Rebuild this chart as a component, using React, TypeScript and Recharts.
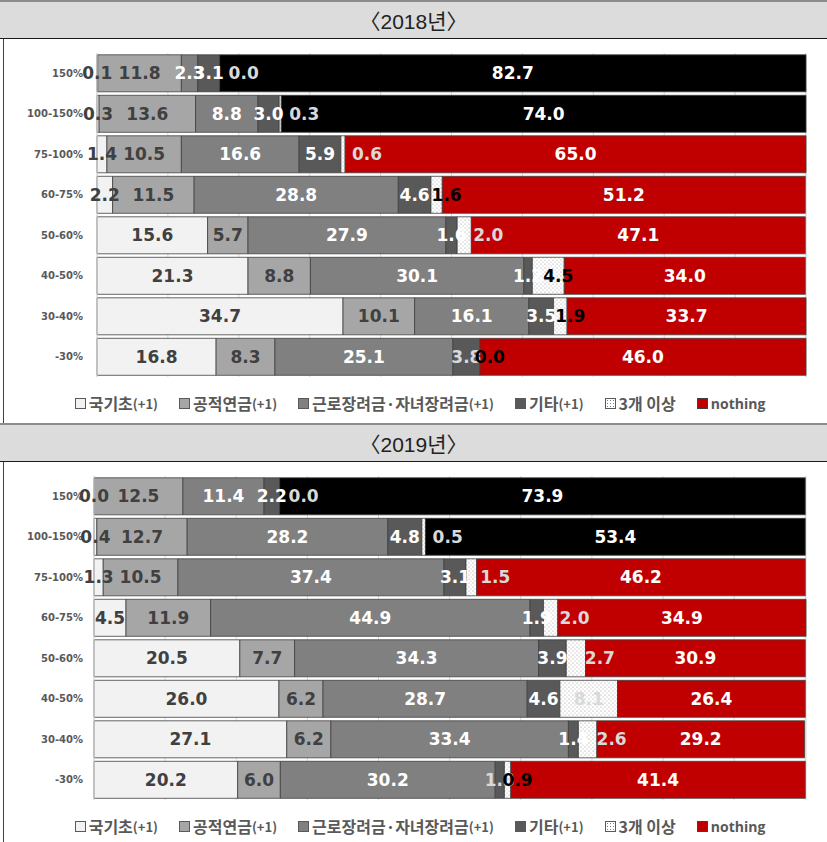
import React from 'react';
import { BarChart, Bar, XAxis, YAxis, CartesianGrid, LabelList, Cell } from 'recharts';

const categories = ['150%', '100-150%', '75-100%', '60-75%', '50-60%', '40-50%', '30-40%', '-30%'];
const seriesNames = ['국기초', '공적연금', '근로장려금·자녀장려금', '기타', '3개 이상', 'nothing'];
const seriesSuffix = ['(+1)', '(+1)', '(+1)', '(+1)', '', ''];

// 2018
const basic2018 = [0.1, 0.3, 1.4, 2.2, 15.6, 21.3, 34.7, 16.8];
const pension2018 = [11.8, 13.6, 10.5, 11.5, 5.7, 8.8, 10.1, 8.3];
const earned2018 = [2.3, 8.8, 16.6, 28.8, 27.9, 30.1, 16.1, 25.1];
const other2018 = [3.1, 3.0, 5.9, 4.6, 1.6, 1.2, 3.5, 3.8];
const three2018 = [0.0, 0.3, 0.6, 1.6, 2.0, 4.5, 1.9, 0.0];
const nothing2018 = [82.7, 74.0, 65.0, 51.2, 47.1, 34.0, 33.7, 46.0];

// 2019
const basic2019 = [0.0, 0.4, 1.3, 4.5, 20.5, 26.0, 27.1, 20.2];
const pension2019 = [12.5, 12.7, 10.5, 11.9, 7.7, 6.2, 6.2, 6.0];
const earned2019 = [11.4, 28.2, 37.4, 44.9, 34.3, 28.7, 33.4, 30.2];
const other2019 = [2.2, 4.8, 3.1, 1.9, 3.9, 4.6, 1.4, 1.3];
const three2019 = [0.0, 0.5, 1.5, 2.0, 2.7, 8.1, 2.6, 0.9];
const nothing2019 = [73.9, 53.4, 46.2, 34.9, 30.9, 26.4, 29.2, 41.4];

const gridTicks = [0, 10, 20, 30, 40, 50, 60, 70, 80, 90, 100];

const keys = ['s0', 's1', 's2', 's3', 's4', 's5'];
const fills = ['#f2f2f2', '#a6a6a6', '#808080', '#595959', 'url(#dots)', '#c00000'];
const labelColors = ['#404040', '#404040', '#ffffff', '#ffffff', '#000000', '#ffffff'];

// labels the original draws in pale grey (series index -> rows)
const pale2018: Record<number, number[]> = { 3: [7], 4: [0, 1, 2, 4] };
const pale2019: Record<number, number[]> = { 3: [7], 4: [0, 1, 2, 3, 4, 5, 6] };

const build = (cols: number[][]) =>
    categories.map((cat, i) => {
        const row: Record<string, any> = { cat };
        cols.forEach((c, k) => (row[keys[k]] = c[i]));
        return row;
    });

const data2018 = build([basic2018, pension2018, earned2018, other2018, three2018, nothing2018]);
const data2019 = build([basic2019, pension2019, earned2019, other2019, three2019, nothing2019]);

const labelFont = '"DejaVu Sans", Verdana, sans-serif';
const krFont = '"Noto Sans CJK KR", "Noto Sans", sans-serif';

function YearTitle({ top, text }: { top: number; text: string }) {
    return (
        <div style={{
            position: 'absolute', left: 0, top, width: 827, height: 36,
            background: '#dcdcdc', borderTop: '2px solid #8c8c8c', borderBottom: '1px solid #1a1a1a',
            display: 'flex', alignItems: 'center', justifyContent: 'center',
            fontFamily: '"Liberation Sans Narrow", "Liberation Sans", ' + krFont, fontSize: 21, color: '#222'
        }}>{text}</div>
    );
}

function Legend({ top }: { top: number }) {
    return (
        <div style={{
            position: 'absolute', left: 3, top, width: 834, height: 20,
            display: 'flex', justifyContent: 'center', alignItems: 'center', gap: 21,
            fontFamily: krFont, fontWeight: 700, color: '#595959', fontSize: 16
        }}>
            {seriesNames.map((n, i) => (
                <div key={n} style={{ display: 'flex', alignItems: 'center' }}>
                    <span style={{
                        display: 'inline-block', width: 9, height: 9, marginRight: 3,
                        border: '1px solid ' + (i === 5 ? '#404040' : '#595959'),
                        background: i === 4
                            ? 'radial-gradient(circle, #7f7f7f 0.6px, #ffffff 0.9px) 0 0 / 3px 3px'
                            : fills[i]
                    }} />
                    <span style={{ fontFamily: i === 5 ? '"Open Sans", ' + krFont : krFont, fontSize: i === 5 ? 14 : 16 }}>{n}</span>
                    {seriesSuffix[i] && <span style={{ fontSize: 13 }}>{seriesSuffix[i]}</span>}
                </div>
            ))}
        </div>
    );
}

function StackChart({ data, top, axisWidth, pale }: { data: any[]; top: number; axisWidth: number; pale: Record<number, number[]> }) {
    const labelText = (k: number, row: number, x: number, w: number, cy: number, value: number) => {
        const isPale = (pale[k] || []).includes(row);
        const color = isPale ? '#d9d9d9' : labelColors[k];
        // narrow "3개 이상" segments have their label pushed to the right, as in the original
        const shift = k === 4 && w < 35 ? (isPale ? 24 : 10) : 0;
        return (
            <text
                key={`t-${k}-${row}`}
                x={x + w / 2 + shift}
                y={cy}
                textAnchor="middle"
                dominantBaseline="central"
                fill={color}
                fontFamily={labelFont}
                fontWeight={700}
                fontSize={17}
            >
                {value.toFixed(1)}
            </text>
        );
    };

    // value carries the row's category so labels know their row
    const renderLabel = (k: number) => (p: any) => {
        const { x, y, width, height, value } = p;
        const cat = String(value).split('|')[0];
        const row = categories.indexOf(cat);
        if (row < 0) return null;
        const v = data[row][keys[k]];
        const cy = Number(y) + Number(height) / 2;
        const parts = [];
        // a zero-width segment before this one gets its label drawn here, at the shared edge
        if (k > 0 && data[row][keys[k - 1]] === 0) {
            parts.push(labelText(k - 1, row, Number(x), 0, cy, 0));
        }
        if (v !== 0) parts.push(labelText(k, row, Number(x), Number(width), cy, v));
        return <g>{parts}</g>;
    };

    return (
        <div style={{ position: 'absolute', left: 0, top }}>
            <BarChart
                width={827}
                height={345}
                data={data}
                layout="vertical"
                margin={{ top: 14, right: 21, bottom: 7, left: 0 }}
                barCategoryGap={1.8}
            >
                <CartesianGrid horizontal={false} stroke="#d9d9d9" />
                <XAxis type="number" domain={[0, 100]} ticks={gridTicks} hide />
                <YAxis
                    type="category"
                    dataKey="cat"
                    width={axisWidth}
                    axisLine={{ stroke: '#d9d9d9' }}
                    tickLine={false}
                    tickSize={0}
                    tickMargin={axisWidth - 83}
                    tick={{ fontSize: 10, fontWeight: 700, fill: '#595959', fontFamily: labelFont }}
                />
                {keys.map((key, k) => (
                    <Bar
                        key={key}
                        dataKey={key}
                        stackId="a"
                        fill={fills[k]}
                        stroke="#404040"
                        strokeWidth={0.8}
                        isAnimationActive={false}
                    >
                        {k === 5 && data.map((_, i) => (
                            <Cell key={`c-${i}`} fill={i < 2 ? '#000000' : '#c00000'} />
                        ))}
                        <LabelList dataKey={(d: any) => `${d.cat}|${d[key]}`} content={renderLabel(k)} />
                    </Bar>
                ))}
            </BarChart>
        </div>
    );
}

export default function App() {
    return (
        <div style={{ position: 'absolute', left: 0, top: 0, width: 827, height: 842, background: '#fff', overflow: 'hidden' }}>
            <svg width={0} height={0} style={{ position: 'absolute' }}>
                <defs>
                    <pattern id="dots" width={4} height={4} patternUnits="userSpaceOnUse">
                        <rect width={4} height={4} fill="#ffffff" />
                        <circle cx={1} cy={1} r={0.5} fill="#7f7f7f" />
                        <circle cx={3} cy={3} r={0.5} fill="#9f9f9f" />
                    </pattern>
                </defs>
            </svg>

            <YearTitle top={0} text="〈2018년〉" />
            <div style={{ position: 'absolute', left: 3, top: 39, width: 1, height: 384, background: '#404040' }} />
            <StackChart data={data2018} top={39} axisWidth={97} pale={pale2018} />
            <Legend top={393} />

            <YearTitle top={423} text="〈2019년〉" />
            <div style={{ position: 'absolute', left: 3, top: 462, width: 1, height: 380, background: '#404040' }} />
            <StackChart data={data2019} top={462} axisWidth={94} pale={pale2019} />
            <Legend top={816} />
        </div>
    );
}
